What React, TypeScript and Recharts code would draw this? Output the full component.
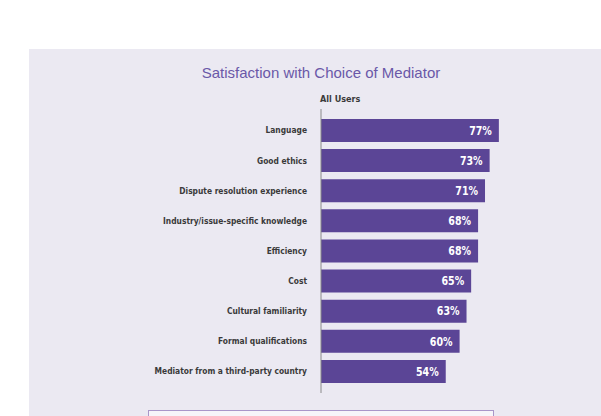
import React from 'react';
import { BarChart, Bar, XAxis, YAxis, LabelList } from 'recharts';

const categories = [
  'Language',
  'Good ethics',
  'Dispute resolution experience',
  'Industry/issue-specific knowledge',
  'Efficiency',
  'Cost',
  'Cultural familiarity',
  'Formal qualifications',
  'Mediator from a third-party country',
];

const allUsers = [77, 73, 71, 68, 68, 65, 63, 60, 54];

const data = categories.map((name, i) => ({ name, allUsers: allUsers[i] }));

const NARROW = "'Liberation Sans Narrow', 'DejaVu Sans Condensed', 'Arial Narrow', sans-serif";
const BAR = '#5b4596';

// condensed category label, right aligned against the axis
const CategoryTick = (props: any) => {
  const { x, y, payload } = props;
  return (
    <text
      transform={`translate(${x},${y}) scale(0.88,1)`}
      textAnchor="end"
      dy="0.35em"
      fill="#3a3a3a"
      fontSize={9.5}
      fontFamily={NARROW}
      fontWeight="bold"
    >
      {payload.value}
    </text>
  );
};

const ValueLabel = (props: any) => {
  const { x, y, width, height, value } = props;
  return (
    <text
      transform={`translate(${x + width - 7},${y + height / 2}) scale(0.88,1)`}
      textAnchor="end"
      dy="0.36em"
      fill="#ffffff"
      fontSize={12}
      fontFamily={NARROW}
      fontWeight="bold"
    >
      {`${value}%`}
    </text>
  );
};

export default function App() {
  return (
    <div style={{ position: 'absolute', left: 0, top: 0, width: 601, height: 416, background: '#fff', overflow: 'hidden' }}>
      <div style={{ position: 'absolute', left: 29, top: 49, width: 572, height: 367, background: '#ebe9f2' }} />

      <div style={{ position: 'absolute', left: 0, top: 0 }}>
        <BarChart
          width={601}
          height={416}
          data={data}
          layout="vertical"
          barSize={23}
          margin={{ top: 109, right: 49, bottom: 23, left: 21 }}
        >
          <XAxis type="number" domain={[0, 100]} hide />
          <YAxis
            type="category"
            dataKey="name"
            width={300}
            tickLine={false}
            tickMargin={8}
            axisLine={{ stroke: '#8a8a8a', strokeWidth: 1 }}
            padding={{ top: 6, bottom: 7 }}
            tick={<CategoryTick />}
            interval={0}
          />
          <Bar dataKey="allUsers" fill={BAR} isAnimationActive={false}>
            <LabelList dataKey="allUsers" content={<ValueLabel />} />
          </Bar>
        </BarChart>
      </div>

      <div
        style={{
          position: 'absolute',
          left: 0,
          width: 642,
          top: 64,
          textAlign: 'center',
          fontFamily: "'Liberation Sans', Arial, sans-serif",
          fontSize: 15,
          color: '#6a58a8',
          lineHeight: '18px',
        }}
      >
        Satisfaction with Choice of Mediator
      </div>
      <div
        style={{
          position: 'absolute',
          left: 320,
          top: 93,
          fontFamily: NARROW,
          fontWeight: 'bold',
          fontSize: 9,
          color: '#3a3a3a',
          lineHeight: '12px',
        }}
      >
        All Users
      </div>

      <div
        style={{
          position: 'absolute',
          left: 148,
          top: 410,
          width: 344,
          height: 30,
          border: '1px solid #a996c9',
          background: '#f6f5f9',
        }}
      />
    </div>
  );
}
